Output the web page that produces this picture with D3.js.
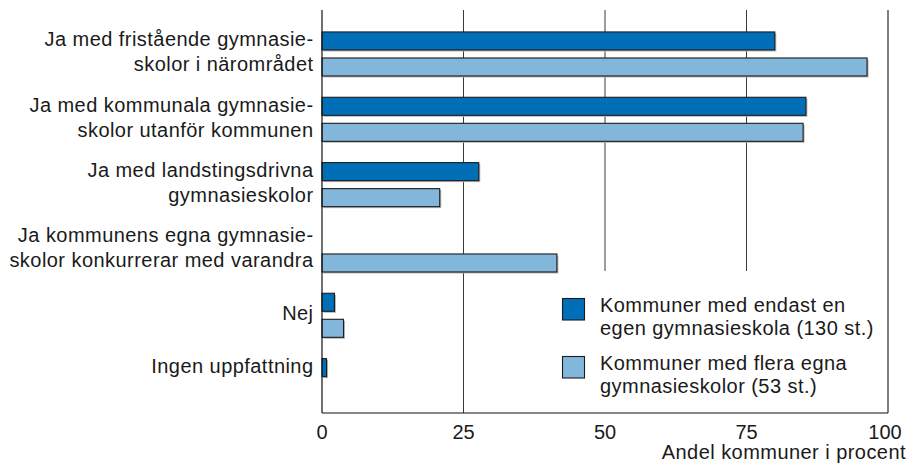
<!DOCTYPE html>
<html>
<head>
<meta charset="utf-8">
<script src="https://cdn.jsdelivr.net/npm/d3@7"></script>
<style>
    body { margin: 0; background: #fff; }
    svg text { font-family: "Liberation Sans", Arial, sans-serif; fill: #1a1a1a; }
</style>
</head>
<body>
<svg id="chart" width="910" height="465"></svg>
<script>
// Kategorier (rader), en array med textrader per kategori
const categories = [
    ['Ja med fristående gymnasie-', 'skolor i närområdet'],
    ['Ja med kommunala gymnasie-', 'skolor utanför kommunen'],
    ['Ja med landstingsdrivna', 'gymnasieskolor'],
    ['Ja kommunens egna gymnasie-', 'skolor konkurrerar med varandra'],
    ['Nej'],
    ['Ingen uppfattning']
];

// Serier
const seriesNames = [
    ['Kommuner med endast en', 'egen gymnasieskola (130 st.)'],
    ['Kommuner med flera egna', 'gymnasieskolor (53 st.)']
];
const seriesColors = ['#006fb7', '#82b7db'];

// Andel kommuner i procent (avläst)
const endastEn = [80, 85.5, 27.7, null, 2.2, 0.8];
const fleraEgna = [96.3, 85, 20.8, 41.5, 3.8, null];

const xTicks = [0, 25, 50, 75, 100];
const xTitle = 'Andel kommuner i procent';

// --- layout ---
const width = 910, height = 465;
const plotTop = 10, plotBottom = 413;
const svg = d3.select('#chart');

const x = d3.scaleLinear().domain([0, 100]).range([322, 888]);

const rows = categories.map((c, i) => ({
    index: i,
    lines: c,
    values: [endastEn[i], fleraEgna[i]]
}));

// yttre band per kategori, inre band per serie
const y0 = d3.scaleBand()
    .domain(d3.range(categories.length))
    .range([21.3, 413.3])
    .paddingInner(0.326)
    .paddingOuter(0.163);

const y1 = d3.scaleBand()
    .domain([0, 1])
    .range([0, y0.bandwidth()])
    .paddingInner(0.3077);

// Stödlinjer
const grid = svg.append('g');
grid.selectAll('line')
    .data(xTicks.filter(t => t > 0 && t < 100))
    .enter()
    .append('line')
    .attr('x1', d => x(d)).attr('x2', d => x(d))
    .attr('y1', plotTop).attr('y2', plotBottom)
    .attr('stroke', '#3a3a3a')
    .attr('stroke-width', 1);

// Vit teckenförklaringsyta döljer stödlinjerna (ritas före staplarna)
const legend = svg.append('g');
legend.append('rect')
    .attr('x', 545).attr('y', 271)
    .attr('width', x(100) - 545 - 0.6)
    .attr('height', plotBottom - 271)
    .attr('fill', '#fff');

// Ram till höger
svg.append('line')
    .attr('x1', x(100)).attr('x2', x(100))
    .attr('y1', plotTop).attr('y2', plotBottom)
    .attr('stroke', '#2a2a2a').attr('stroke-width', 1.2);

// Staplar
const group = svg.append('g')
    .selectAll('g')
    .data(rows)
    .enter()
    .append('g')
    .attr('transform', d => `translate(0, ${y0(d.index)})`);

const bars = group.selectAll('g.bar')
    .data(d => d.values.map((v, s) => ({ v, s })).filter(b => b.v !== null))
    .enter()
    .append('g')
    .attr('class', 'bar');

// liten skugga
bars.append('rect')
    .attr('x', x(0) + 1.5)
    .attr('y', d => y1(d.s) + 1.5)
    .attr('width', d => x(d.v) - x(0))
    .attr('height', y1.bandwidth())
    .attr('fill', '#b5b5b5');

bars.append('rect')
    .attr('x', x(0))
    .attr('y', d => y1(d.s))
    .attr('width', d => x(d.v) - x(0))
    .attr('height', y1.bandwidth())
    .attr('fill', d => seriesColors[d.s])
    .attr('stroke', '#1c1c1c')
    .attr('stroke-width', 1.1);

// Teckenförklaring
const legendItem = legend.selectAll('g')
    .data(seriesNames)
    .enter()
    .append('g')
    .attr('transform', (d, i) => `translate(562.5, ${298.5 + i * 58})`);

legendItem.append('rect')
    .attr('width', 22).attr('height', 21.5)
    .attr('fill', (d, i) => seriesColors[i])
    .attr('stroke', '#1c1c1c')
    .attr('stroke-width', 1.1);

legendItem.append('text')
    .attr('x', 37.5)
    .attr('font-size', '20px')
    .attr('letter-spacing', '0.45px')
    .selectAll('tspan')
    .data(d => d)
    .enter()
    .append('tspan')
    .attr('x', 37.5)
    .attr('y', (d, i) => 13.5 + i * 23)
    .text(d => d);

// Axellinjer
svg.append('line')
    .attr('x1', x(0)).attr('x2', x(0))
    .attr('y1', plotTop).attr('y2', plotBottom)
    .attr('stroke', '#111').attr('stroke-width', 1.2);
svg.append('line')
    .attr('x1', x(0)).attr('x2', x(100))
    .attr('y1', plotBottom).attr('y2', plotBottom)
    .attr('stroke', '#111').attr('stroke-width', 1.2);

// Kategorietiketter
const labels = svg.append('g')
    .selectAll('text')
    .data(rows)
    .enter()
    .append('text')
    .attr('text-anchor', 'end')
    .attr('font-size', '20px')
    .attr('letter-spacing', '0.45px');

labels.selectAll('tspan')
    .data(d => {
        const top = y0(d.index);
        let base;
        if (d.lines.length > 1) {
            base = top + y0.bandwidth() / 2 - 7.5;
        } else {
            // enradig etikett: mitt på de staplar som finns
            const present = d.values.map((v, s) => v !== null ? s : null).filter(s => s !== null);
            const mid = d3.mean(present, s => y1(s) + y1.bandwidth() / 2);
            base = top + mid + 5;
        }
        return d.lines.map((t, i) => ({ t, y: base + i * 25 }));
    })
    .enter()
    .append('tspan')
    .attr('x', 313.5)
    .attr('y', d => d.y)
    .text(d => d.t);

// Skalvärden
svg.append('g')
    .selectAll('text')
    .data(xTicks)
    .enter()
    .append('text')
    .attr('x', d => x(d) - (d === 100 ? 3 : 0))
    .attr('y', 438.5)
    .attr('text-anchor', 'middle')
    .attr('font-size', '20px')
    .text(d => d);

svg.append('text')
    .attr('x', 906)
    .attr('y', 459)
    .attr('text-anchor', 'end')
    .attr('font-size', '20px')
    .attr('letter-spacing', '0.45px')
    .text(xTitle);
</script>
</body>
</html>
